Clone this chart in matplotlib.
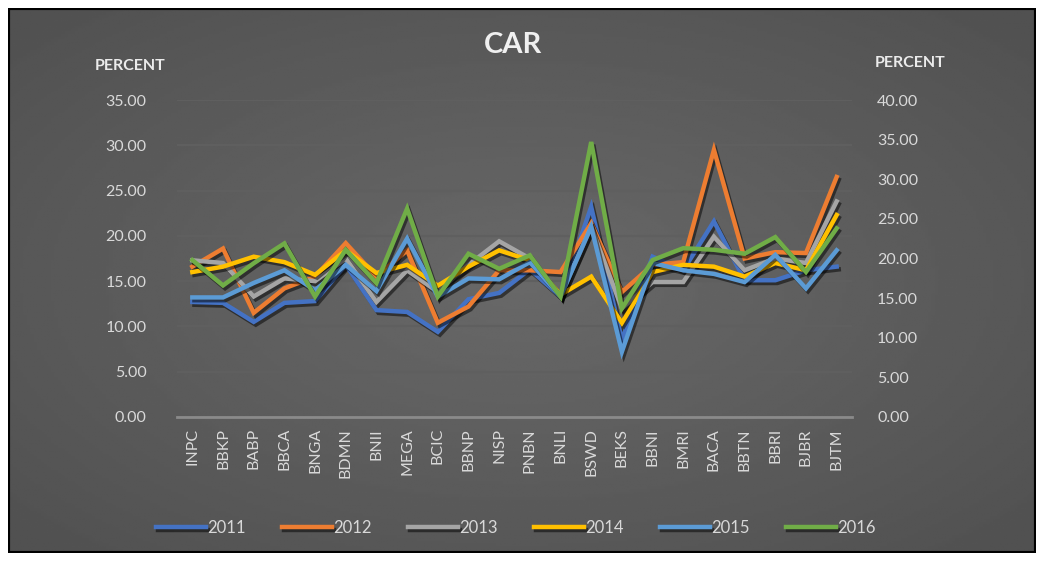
import numpy as np
import matplotlib
matplotlib.use("Agg")
import matplotlib.pyplot as plt
import matplotlib.patheffects as pe
from matplotlib.patches import Rectangle

plt.rcParams['font.family'] = ['Lato', 'DejaVu Sans']

banks = ['INPC', 'BBKP', 'BABP', 'BBCA', 'BNGA', 'BDMN', 'BNII', 'MEGA', 'BCIC', 'BBNP', 'NISP',
         'PNBN', 'BNLI', 'BSWD', 'BEKS', 'BBNI', 'BMRI', 'BACA', 'BBTN', 'BBRI', 'BJBR', 'BJTM']

car_2011 = [12.7, 12.6, 10.5, 12.6, 12.8, 16.8, 11.8, 11.6, 9.4, 13.0, 13.7,
            16.3, 13.3, 23.2, 8.5, 17.7, 16.2, 21.6, 15.1, 15.1, 16.2, 16.6]
car_2012 = [16.6, 18.6, 11.5, 14.2, 15.5, 19.2, 15.5, 18.4, 10.4, 12.2, 16.2,
            16.2, 16.0, 21.4, 13.8, 16.8, 17.1, 29.5, 17.5, 18.2, 18.1, 26.5]
car_2013 = [17.3, 17.0, 13.3, 15.3, 15.0, 17.5, 12.7, 16.2, 13.8, 16.8, 19.4,
            17.5, 13.3, 21.0, 12.0, 14.9, 14.9, 19.9, 16.2, 17.5, 17.0, 23.8]
car_2014 = [16.0, 16.6, 17.7, 17.1, 15.7, 18.4, 15.9, 16.8, 14.5, 16.6, 18.4,
            17.3, 13.5, 15.5, 10.4, 16.0, 16.8, 16.6, 15.5, 17.0, 16.2, 22.3]
car_2015 = [13.2, 13.2, 14.8, 16.2, 14.0, 16.8, 13.9, 19.7, 13.3, 15.3, 15.2,
            17.1, 13.3, 21.0, 7.2, 17.0, 16.2, 15.8, 14.9, 17.9, 14.2, 18.4]
# 2016 is plotted on the secondary (right) axis
car_2016 = [19.8, 16.6, 19.4, 21.9, 15.2, 21.1, 16.9, 26.3, 15.2, 20.6, 18.7,
            20.4, 15.2, 34.7, 13.7, 19.8, 21.3, 21.1, 20.6, 22.7, 18.3, 23.8]

left_series = [('2011', car_2011, '#4472C4'), ('2012', car_2012, '#ED7D31'),
               ('2013', car_2013, '#A5A5A5'), ('2014', car_2014, '#FFC000'),
               ('2015', car_2015, '#5B9BD5')]
right_series = ('2016', car_2016, '#70AD47')

txt = '#d9d9d9'
fig = plt.figure(figsize=(10.44, 5.61), dpi=100, facecolor='white')

# dark panel with radial gradient
bg = fig.add_axes([8/1044, 8/561, 1028/1044, 545/561])
yy, xx = np.mgrid[-1:1:200j, -1:1:300j]
r = np.sqrt((xx*0.9)**2 + (yy*0.9)**2)
bg.imshow(0.32 + 0.09*(1 - np.clip(r, 0, 1.2)/1.2), cmap='gray', vmin=0, vmax=1,
          aspect='auto', extent=[0, 1, 0, 1])
bg.add_patch(Rectangle((0, 0), 1, 1, fill=False, ec='black', lw=3, transform=bg.transAxes))
bg.set_axis_off()

ax = fig.add_axes([177/1044, 1-417/561, 675/1044, 317/561])
ax.patch.set_alpha(0)
ax2 = ax.twinx()
ax2.patch.set_alpha(0)

x = np.arange(len(banks))
shadow = [pe.SimpleLineShadow(offset=(1.5, -2), shadow_color='black', alpha=0.5), pe.Normal()]
handles = []
for name, vals, col in left_series:
    h, = ax.plot(x, vals, color=col, lw=3.2, label=name, path_effects=shadow, solid_joinstyle='miter')
    handles.append(h)
name, vals, col = right_series
h, = ax2.plot(x, vals, color=col, lw=3.2, label=name, path_effects=shadow, solid_joinstyle='miter')
handles.append(h)

ax.set_xlim(-0.5, len(banks) - 0.5)
ax.set_ylim(0, 35)
ax.set_yticks(np.arange(0, 36, 5))
ax.set_yticklabels([f'{v:.2f}' for v in np.arange(0, 36, 5)])
ax2.set_ylim(0, 40)
ax2.set_yticks(np.arange(0, 41, 5))
ax2.set_yticklabels([f'{v:.2f}' for v in np.arange(0, 41, 5)])
ax.set_xticks(x)
ax.set_xticklabels(banks, rotation=90)

ax.grid(axis='y', color='#5f5f5f', lw=1.5)
ax.set_axisbelow(True)
for a in (ax, ax2):
    for s in a.spines.values():
        s.set_visible(False)
    a.tick_params(length=0, colors=txt, labelsize=11.5)
ax.spines['bottom'].set_visible(True)
ax.spines['bottom'].set_color('#8a8a8a')
ax.spines['bottom'].set_linewidth(2)
ax.tick_params(axis='y', pad=22)
ax2.tick_params(axis='y', pad=18)
ax.tick_params(axis='x', pad=8)

fig.text(513/1044, 1-45/561, 'CAR', ha='center', va='center', color='#f0f0f0', fontsize=21, fontweight='bold')
fig.text(130/1044, 1-66/561, 'PERCENT', ha='center', va='center', color='#ebebeb', fontsize=11.5, fontweight='bold')
fig.text(910/1044, 1-63/561, 'PERCENT', ha='center', va='center', color='#ebebeb', fontsize=11.5, fontweight='bold')

fig.legend(handles=handles, loc='center', bbox_to_anchor=(516/1044, 1-528/561), ncol=6,
           frameon=False, fontsize=12, labelcolor=txt, handlelength=3.0, handletextpad=0.1,
           columnspacing=2.15)

fig.savefig('out.png', dpi=100, facecolor='white')
